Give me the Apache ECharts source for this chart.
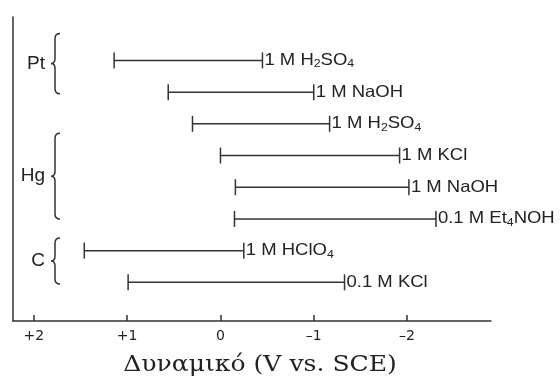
<!DOCTYPE html>
<html>
<head>
<meta charset="utf-8">
<script src="https://cdn.jsdelivr.net/npm/echarts@6/dist/echarts.min.js"></script>
<style>
  html, body { margin: 0; padding: 0; background: #fff; }
  #chart { width: 560px; height: 381px; }
</style>
</head>
<body>
<div id="chart"></div>
<script>
// Potential windows of electrodes in different electrolytes (V vs. SCE)
const electrodes = ['Pt', 'Pt', 'Hg', 'Hg', 'Hg', 'Hg', 'C', 'C'];
const electrolytes = [
  '1 M H{s|2}SO{s|4}',
  '1 M NaOH',
  '1 M H{s|2}SO{s|4}',
  '1 M KCl',
  '1 M NaOH',
  '0.1 M Et{s|4}NOH',
  '1 M HClO{s|4}',
  '0.1 M KCl'
];
const positiveLimit = [1.14, 0.56, 0.30, 0.00, -0.16, -0.15, 1.46, 0.99];
const negativeLimit = [-0.45, -1.00, -1.17, -1.92, -2.02, -2.31, -0.25, -1.33];

// Electrode groups, with the span (in row units) of each bracket
const groupNames = ['Pt', 'Hg', 'C'];
const groupFrom = [-0.85, 2.30, 5.60];
const groupTo = [1.05, 5.00, 7.05];

const tickValues = [2, 1, 0, -1, -2];
const tickLabels = ['+2', '+1', '0', '\u20131', '\u20132'];
const axisTitle = 'Δυναμικό (V vs. SCE)';

const INK = '#333';
const TEXT = '#222';
const SANS = '"Liberation Sans", Arial, sans-serif';

const windowData = positiveLimit.map((p, i) => [i, p, negativeLimit[i]]);
const groupData = groupNames.map((g, i) => [i, groupFrom[i], groupTo[i]]);

const chart = echarts.init(document.getElementById('chart'), null, { renderer: 'canvas' });

chart.setOption({
  animation: false,
  backgroundColor: '#fff',
  grid: { left: 13, right: 69, top: 17, bottom: 60, containLabel: false, outerBoundsMode: 'none' },
  xAxis: {
    type: 'value',
    inverse: true,
    min: -2.9,
    max: 2.224,
    axisLine: { show: true, onZero: false, lineStyle: { color: INK, width: 1.5 } },
    axisTick: { show: true, inside: true, length: 6, customValues: tickValues, lineStyle: { color: INK, width: 1.5 } },
    axisLabel: {
      customValues: tickValues,
      margin: 8,
      fontFamily: '"DejaVu Sans", sans-serif',
      fontSize: 14,
      color: TEXT,
      formatter: v => tickLabels[tickValues.indexOf(v)] ?? ''
    },
    splitLine: { show: false }
  },
  yAxis: {
    type: 'value',
    inverse: true,
    min: -1.37,
    max: 8.22,
    axisLine: { show: true, onZero: false, lineStyle: { color: INK, width: 1.5 } },
    axisTick: { show: false },
    axisLabel: { show: false },
    splitLine: { show: false }
  },
  graphic: [
    {
      type: 'text',
      x: 260,
      y: 365,
      scaleX: 1.14,
      style: {
        text: axisTitle,
        textAlign: 'center',
        textVerticalAlign: 'middle',
        fontFamily: '"DejaVu Serif", serif',
        fontSize: 22,
        fill: TEXT
      }
    }
  ],
  series: [
    {
      // Horizontal window bars with end caps and electrolyte labels
      type: 'custom',
      data: windowData,
      renderItem(params, api) {
        const row = api.value(0);
        const a = api.coord([api.value(1), row]);
        const b = api.coord([api.value(2), row]);
        const cap = 8;
        const ls = { stroke: INK, lineWidth: 1.5 };
        return {
          type: 'group',
          children: [
            { type: 'line', shape: { x1: a[0], y1: a[1], x2: b[0], y2: b[1] }, style: ls },
            { type: 'line', shape: { x1: a[0], y1: a[1] - cap, x2: a[0], y2: a[1] + cap }, style: ls },
            { type: 'line', shape: { x1: b[0], y1: b[1] - cap, x2: b[0], y2: b[1] + cap }, style: ls },
            {
              type: 'text',
              x: b[0] + 2,
              y: b[1],
              scaleX: 1.12,
              style: {
                text: electrolytes[params.dataIndex],
                textAlign: 'left',
                textVerticalAlign: 'middle',
                fontFamily: SANS,
                fontSize: 16.5,
                fill: TEXT,
                rich: {
                  s: { fontFamily: SANS, fontSize: 11, fill: TEXT, padding: [8, 0, 0, 0] }
                }
              }
            }
          ]
        };
      }
    },
    {
      // Curly brackets grouping the rows of each electrode
      type: 'custom',
      data: groupData,
      renderItem(params, api) {
        const cs = params.coordSys;
        const top = api.coord([0, api.value(1)])[1];
        const bot = api.coord([0, api.value(2)])[1];
        const mid = (top + bot) / 2;
        const x = cs.x + 42;
        const w = 5, tip = 4, r = 5;
        const d = [
          'M', x + w, top,
          'Q', x, top, x, top + r,
          'L', x, mid - r,
          'Q', x, mid, x - tip, mid,
          'Q', x, mid, x, mid + r,
          'L', x, bot - r,
          'Q', x, bot, x + w, bot
        ].join(' ');
        return {
          type: 'group',
          children: [
            { type: 'path', shape: { pathData: d }, style: { stroke: INK, lineWidth: 1.5, fill: null } },
            {
              type: 'text',
              x: cs.x + 32,
              y: mid,
              style: {
                text: groupNames[params.dataIndex],
                textAlign: 'right',
                textVerticalAlign: 'middle',
                fontFamily: SANS,
                fontSize: 19,
                fill: TEXT
              }
            }
          ]
        };
      }
    }
  ]
});
</script>
</body>
</html>
